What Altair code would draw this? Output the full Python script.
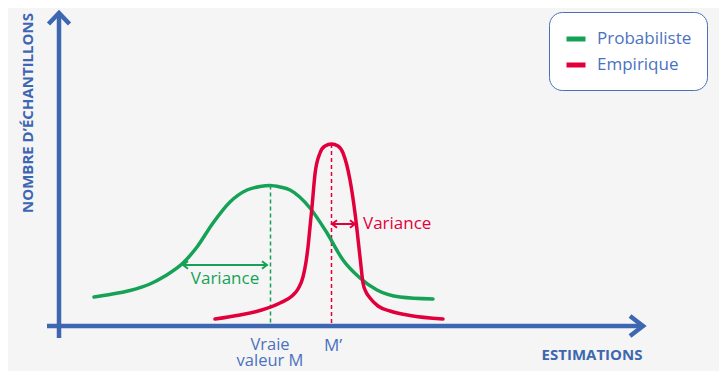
import altair as alt
import pandas as pd

# ---- data (x: estimation, y: number of samples) ----
green_x = [35, 51, 71, 91, 106, 124, 138, 154, 171, 188, 201, 211, 221, 231, 251, 268, 284, 301, 318, 341, 374]
green_y = [29, 31.5, 35.5, 42, 50, 63, 79, 103, 124, 136, 139.5, 140.5, 139, 136, 118, 93, 66, 48, 36, 29, 27]

red_x = [156, 181, 201, 221, 233, 239, 244, 247, 249, 251, 253, 256, 261, 266, 272.5, 279, 284, 291, 296, 301, 304, 307, 311, 319, 331, 351, 384]
red_y = [7, 11, 15.5, 23, 30, 37, 49, 64, 79, 99, 119, 152, 173, 180, 182, 180, 173, 146, 113, 69, 43, 34, 28, 20, 15, 10.5, 7]

series_names = ["Probabiliste", "Empirique"]
series_colors = ["#15a257", "#e2003c"]

# reference estimates (true value M and M')
true_m = 211.5
true_m_peak = 140.5
m_prime = 272.5
m_prime_peak = 182

# variance extents
green_var = [124, 208, 61]   # from, to, height
red_var = [273, 296, 102]

# axis extents
x_axis_max = 584
y_axis_max = 313

AXIS = "#3d67b1"
TEXT = "#4a72c0"
FONT = "Open Sans"

curves = pd.DataFrame(
    [{"x": a, "y": b, "series": series_names[0]} for a, b in zip(green_x, green_y)]
    + [{"x": a, "y": b, "series": series_names[1]} for a, b in zip(red_x, red_y)]
)

xs = alt.Scale(domain=[-51, 660])
ys = alt.Scale(domain=[-45, 318])
X = lambda f="x": alt.X(f"{f}:Q", scale=xs, axis=None)
Y = lambda f="y": alt.Y(f"{f}:Q", scale=ys, axis=None)

curve_layer = alt.Chart(curves).mark_line(
    interpolate="monotone", strokeWidth=3.5, strokeCap="round"
).encode(
    x=X(), y=Y(),
    color=alt.Color("series:N", scale=alt.Scale(domain=series_names, range=series_colors),
                    sort=series_names,
                    legend=alt.Legend(
                        title=None, orient="none", legendX=541, legendY=4,
                        fillColor="white", strokeColor="#4a6fb5", cornerRadius=13,
                        padding=15, symbolType="stroke", symbolStrokeWidth=5,
                        symbolSize=361, labelFont=FONT, labelFontSize=17,
                        labelColor=TEXT, labelOffset=9, rowPadding=4)),
    detail="series:N",
)

# dashed markers
dash_df = pd.DataFrame({
    "x": [true_m, m_prime], "y": [true_m_peak, m_prime_peak], "y2": [0, 0],
    "c": [series_colors[0], series_colors[1]],
})
dash_layer = alt.Chart(dash_df).mark_rule(strokeWidth=1.5, strokeDash=[4, 3]).encode(
    x=X(), y=Y(), y2="y2:Q", color=alt.Color("c:N", scale=None)
)

# axes with arrow heads
def poly(name, pts):
    return [{"g": name, "o": i, "x": p[0], "y": p[1]} for i, p in enumerate(pts)]

axis_rows = (
    poly("yline", [(0, -12), (0, y_axis_max)])
    + poly("xline", [(-12, 0), (x_axis_max, 0)])
    + poly("yhead", [(-10.5, y_axis_max - 11), (0, y_axis_max), (10.5, y_axis_max - 11)])
    + poly("xhead", [(x_axis_max - 13, 10), (x_axis_max, 0), (x_axis_max - 13, -10)])
)
axis_layer = alt.Chart(pd.DataFrame(axis_rows)).mark_line(
    color=AXIS, strokeWidth=4.5, strokeJoin="miter", strokeCap="butt"
).encode(x=X(), y=Y(), detail="g:N", order="o:Q")

def dbl_arrow(prefix, a, b, h, dx=5, dy=3.8):
    return (poly(prefix + "s", [(a, h), (b, h)])
            + poly(prefix + "l", [(a + dx, h + dy), (a, h), (a + dx, h - dy)])
            + poly(prefix + "r", [(b - dx, h + dy), (b, h), (b - dx, h - dy)]))

var_g = alt.Chart(pd.DataFrame(dbl_arrow("g", *green_var))).mark_line(
    color=series_colors[0], strokeWidth=2).encode(x=X(), y=Y(), detail="g:N", order="o:Q")
var_r = alt.Chart(pd.DataFrame(dbl_arrow("r", *red_var))).mark_line(
    color=series_colors[1], strokeWidth=2).encode(x=X(), y=Y(), detail="g:N", order="o:Q")

# texts
txt = pd.DataFrame([
    {"x": 166, "y": 47, "t": "Variance", "c": series_colors[0]},
    {"x": 274, "y": -20, "t": "M\u2019", "c": TEXT},
])
txt_layer = alt.Chart(txt).mark_text(font=FONT, fontSize=17, baseline="middle").encode(
    x=X(), y=Y(), text="t:N", color=alt.Color("c:N", scale=None)
)
vm_layer = alt.Chart(pd.DataFrame([{"x": 211, "y": -19, "t": "Vraie\nvaleur M"}])).mark_text(
    font=FONT, fontSize=16.5, baseline="middle", lineBreak="\n", lineHeight=16, color=TEXT
).encode(x=X(), y=Y(), text="t:N")
txt_r = alt.Chart(pd.DataFrame([{"x": 304, "y": 102, "t": "Variance"}])).mark_text(
    font=FONT, fontSize=17, baseline="middle", align="left", color=series_colors[1]
).encode(x=X(), y=Y(), text="t:N")

xt = alt.Chart(pd.DataFrame([{"x": 533, "y": -29, "t": "ESTIMATIONS"}])).mark_text(
    font=FONT, fontSize=15, fontWeight="bold", baseline="middle", align="center", color=AXIS
).encode(x=X(), y=Y(), text="t:N")
yt = alt.Chart(pd.DataFrame([{"x": -31, "y": 213, "t": "NOMBRE D\u2019\u00c9CHANTILLONS"}])).mark_text(
    font=FONT, fontSize=15, fontWeight="bold", baseline="middle", align="center", angle=270, color=AXIS
).encode(x=X(), y=Y(), text="t:N")

chart = alt.layer(
    dash_layer, curve_layer, axis_layer, var_g, var_r, txt_layer, vm_layer, txt_r, xt, yt
).properties(
    width=711, height=363, autosize=alt.AutoSizeParams(type="none"), padding=0,
    background="#f5f5f5",
).configure_view(stroke=None)

chart.save("out.html", embed_options={"renderer": "svg", "actions": False})
